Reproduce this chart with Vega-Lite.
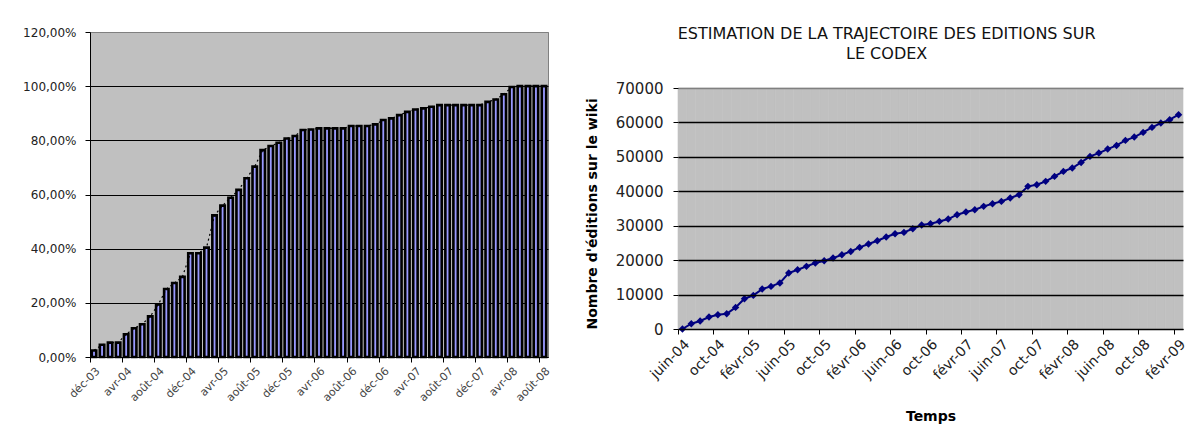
{
  "$schema": "https://vega.github.io/schema/vega-lite/v6.json",
  "background": "white",
  "padding": {"left": 22, "top": 25, "right": 0, "bottom": 0},
  "spacing": 33,
  "config": {
    "font": "DejaVu Sans",
    "view": {"fill": "#C0C0C0", "stroke": "#808080", "strokeWidth": 1},
    "axis": {
      "domainColor": "#000000",
      "tickColor": "#000000",
      "tickSize": 5,
      "labelColor": "#222222",
      "labelFont": "DejaVu Sans",
      "titleFont": "DejaVu Sans",
      "titleColor": "#000000"
    }
  },
  "hconcat": [
    {
      "width": 458,
      "height": 325,
      "data": {"values": [
        {"mois": "déc-03", "pct": 2.4},
        {"mois": "janv-04", "pct": 4.5},
        {"mois": "févr-04", "pct": 5.3},
        {"mois": "mars-04", "pct": 5.3},
        {"mois": "avr-04", "pct": 8.4},
        {"mois": "mai-04", "pct": 10.6},
        {"mois": "juin-04", "pct": 12.1},
        {"mois": "juil-04", "pct": 15.0},
        {"mois": "août-04", "pct": 19.4},
        {"mois": "sept-04", "pct": 25.1},
        {"mois": "oct-04", "pct": 27.3},
        {"mois": "nov-04", "pct": 29.6},
        {"mois": "déc-04", "pct": 38.3},
        {"mois": "janv-05", "pct": 38.3},
        {"mois": "févr-05", "pct": 40.4},
        {"mois": "mars-05", "pct": 52.3},
        {"mois": "avr-05", "pct": 55.9},
        {"mois": "mai-05", "pct": 58.8},
        {"mois": "juin-05", "pct": 61.7},
        {"mois": "juil-05", "pct": 66.0},
        {"mois": "août-05", "pct": 70.3},
        {"mois": "sept-05", "pct": 76.4},
        {"mois": "oct-05", "pct": 77.9},
        {"mois": "nov-05", "pct": 79.1},
        {"mois": "déc-05", "pct": 80.7},
        {"mois": "janv-06", "pct": 81.6},
        {"mois": "févr-06", "pct": 83.8},
        {"mois": "mars-06", "pct": 84.0},
        {"mois": "avr-06", "pct": 84.4},
        {"mois": "mai-06", "pct": 84.4},
        {"mois": "juin-06", "pct": 84.4},
        {"mois": "juil-06", "pct": 84.4},
        {"mois": "août-06", "pct": 85.3},
        {"mois": "sept-06", "pct": 85.3},
        {"mois": "oct-06", "pct": 85.3},
        {"mois": "nov-06", "pct": 85.9},
        {"mois": "déc-06", "pct": 87.5},
        {"mois": "janv-07", "pct": 88.1},
        {"mois": "févr-07", "pct": 89.3},
        {"mois": "mars-07", "pct": 90.5},
        {"mois": "avr-07", "pct": 91.4},
        {"mois": "mai-07", "pct": 91.8},
        {"mois": "juin-07", "pct": 92.4},
        {"mois": "juil-07", "pct": 93.0},
        {"mois": "août-07", "pct": 93.0},
        {"mois": "sept-07", "pct": 93.0},
        {"mois": "oct-07", "pct": 93.0},
        {"mois": "nov-07", "pct": 93.0},
        {"mois": "déc-07", "pct": 93.0},
        {"mois": "janv-08", "pct": 94.2},
        {"mois": "févr-08", "pct": 95.1},
        {"mois": "mars-08", "pct": 97.0},
        {"mois": "avr-08", "pct": 99.7},
        {"mois": "mai-08", "pct": 100},
        {"mois": "juin-08", "pct": 100},
        {"mois": "juil-08", "pct": 100},
        {"mois": "août-08", "pct": 100}
      ]},
      "encoding": {
        "x": {
          "field": "mois", "type": "ordinal", "sort": null,
          "scale": {"paddingInner": 0, "paddingOuter": 0},
          "axis": {
            "title": null,
            "values": ["déc-03", "avr-04", "août-04", "déc-04", "avr-05", "août-05", "déc-05", "avr-06", "août-06", "déc-06", "avr-07", "août-07", "déc-07", "avr-08", "août-08"],
            "bandPosition": 0,
            "labelAngle": -45,
            "labelFontSize": 11,
            "labelColor": "#444444",
            "grid": false,
            "labelPadding": 3
          }
        },
        "y": {
          "field": "pct", "type": "quantitative",
          "scale": {"domain": [0, 120], "nice": false},
          "axis": {
            "title": null,
            "values": [0, 20, 40, 60, 80, 100, 120],
            "labelExpr": "replace(format(datum.value, '.2f'), '.', ',') + '%'",
            "labelFontSize": 12,
            "grid": true,
            "gridColor": {"condition": {"test": "datum.value == 120", "value": "#808080"}, "value": "#000000"},
            "gridWidth": 1,
            "labelPadding": 9
          }
        }
      },
      "layer": [
        {
          "mark": {"type": "bar", "fill": "#9999FF", "stroke": "#000000", "strokeWidth": 2.6, "width": {"band": 0.55}}
        },
        {
          "mark": {"type": "line", "color": "#000000", "strokeWidth": 1.2, "strokeDash": [2, 3]}
        }
      ]
    },
    {
      "width": 505,
      "height": 297,
      "view": {"fill": null, "stroke": null},
      "title": {
        "text": ["ESTIMATION DE LA TRAJECTOIRE DES EDITIONS SUR", "LE CODEX"],
        "font": "DejaVu Sans",
        "fontSize": 16,
        "fontWeight": "normal",
        "color": "#111111",
        "anchor": "middle",
        "frame": "bounds",
        "lineHeight": 20,
        "offset": -30
      },
      "data": {"values": [
        {"mois": "juin-04", "editions": 0},
        {"mois": "juil-04", "editions": 1540},
        {"mois": "août-04", "editions": 2320},
        {"mois": "sept-04", "editions": 3480},
        {"mois": "oct-04", "editions": 4150},
        {"mois": "nov-04", "editions": 4440},
        {"mois": "déc-04", "editions": 6270},
        {"mois": "janv-05", "editions": 8800},
        {"mois": "févr-05", "editions": 9760},
        {"mois": "mars-05", "editions": 11600},
        {"mois": "avr-05", "editions": 12370},
        {"mois": "mai-05", "editions": 13360},
        {"mois": "juin-05", "editions": 16260},
        {"mois": "juil-05", "editions": 17220},
        {"mois": "août-05", "editions": 18190},
        {"mois": "sept-05", "editions": 19150},
        {"mois": "oct-05", "editions": 19830},
        {"mois": "nov-05", "editions": 20600},
        {"mois": "déc-05", "editions": 21560},
        {"mois": "janv-06", "editions": 22530},
        {"mois": "févr-06", "editions": 23700},
        {"mois": "mars-06", "editions": 24680},
        {"mois": "avr-06", "editions": 25640},
        {"mois": "mai-06", "editions": 26720},
        {"mois": "juin-06", "editions": 27680},
        {"mois": "juil-06", "editions": 28060},
        {"mois": "août-06", "editions": 29130},
        {"mois": "sept-06", "editions": 30200},
        {"mois": "oct-06", "editions": 30580},
        {"mois": "nov-06", "editions": 31250},
        {"mois": "déc-06", "editions": 31930},
        {"mois": "janv-07", "editions": 33200},
        {"mois": "févr-07", "editions": 33980},
        {"mois": "mars-07", "editions": 34650},
        {"mois": "avr-07", "editions": 35620},
        {"mois": "mai-07", "editions": 36400},
        {"mois": "juin-07", "editions": 37060},
        {"mois": "juil-07", "editions": 38050},
        {"mois": "août-07", "editions": 39010},
        {"mois": "sept-07", "editions": 41430},
        {"mois": "oct-07", "editions": 41920},
        {"mois": "nov-07", "editions": 42880},
        {"mois": "déc-07", "editions": 44330},
        {"mois": "janv-08", "editions": 45780},
        {"mois": "févr-08", "editions": 46750},
        {"mois": "mars-08", "editions": 48380},
        {"mois": "avr-08", "editions": 50130},
        {"mois": "mai-08", "editions": 51100},
        {"mois": "juin-08", "editions": 52260},
        {"mois": "juil-08", "editions": 53320},
        {"mois": "août-08", "editions": 54780},
        {"mois": "sept-08", "editions": 55750},
        {"mois": "oct-08", "editions": 57100},
        {"mois": "nov-08", "editions": 58560},
        {"mois": "déc-08", "editions": 59820},
        {"mois": "janv-09", "editions": 60790},
        {"mois": "févr-09", "editions": 62240}
      ]},
      "encoding": {
        "x": {
          "field": "mois", "type": "ordinal", "sort": null,
          "scale": {"paddingInner": 0, "paddingOuter": 0},
          "axis": {
            "title": "Temps",
            "titleFontSize": 14,
            "titleFontWeight": "bold",
            "titlePadding": 28,
            "values": ["juin-04", "oct-04", "févr-05", "juin-05", "oct-05", "févr-06", "juin-06", "oct-06", "févr-07", "juin-07", "oct-07", "févr-08", "juin-08", "oct-08", "févr-09"],
            "bandPosition": 0,
            "labelAngle": -45,
            "labelFontSize": 14,
            "grid": false,
            "labelPadding": 3,
            "zindex": 1
          }
        },
        "y": {
          "field": "editions", "type": "quantitative",
          "scale": {"domain": [0, 86266], "nice": false},
          "axis": {
            "title": "Nombre d'éditions sur le wiki",
            "titleFontSize": 14,
            "titleFontWeight": "bold",
            "titlePadding": 16,
            "titleAnchor": "start",
            "domain": false,
            "values": [0, 10000, 20000, 30000, 40000, 50000, 60000, 70000],
            "format": "d",
            "labelFontSize": 15,
            "grid": true,
            "gridColor": {"condition": {"test": "datum.value == 70000", "value": "#808080"}, "value": "#000000"},
            "gridWidth": 1.5,
            "labelPadding": 10,
            "zindex": 1
          }
        }
      },
      "layer": [
        {
          "mark": {"type": "rect", "fill": "#C0C0C0", "stroke": "#C0C0C0", "strokeWidth": 0.6},
          "encoding": {
            "y": {"datum": 0, "type": "quantitative"},
            "y2": {"datum": 70000}
          }
        },
        {
          "mark": {
            "type": "line",
            "color": "#000080",
            "strokeWidth": 2,
            "point": {"shape": "diamond", "size": 55, "filled": true, "color": "#000080"}
          }
        },
        {
          "data": {"values": [{"zone": "axe"}]},
          "mark": {"type": "rule", "color": "#000000", "strokeWidth": 1.5},
          "encoding": {
            "x": {"datum": "juin-04", "type": "ordinal", "bandPosition": 0},
            "y": {"datum": 0, "type": "quantitative"},
            "y2": {"datum": 70000}
          }
        }
      ]
    }
  ]
}
